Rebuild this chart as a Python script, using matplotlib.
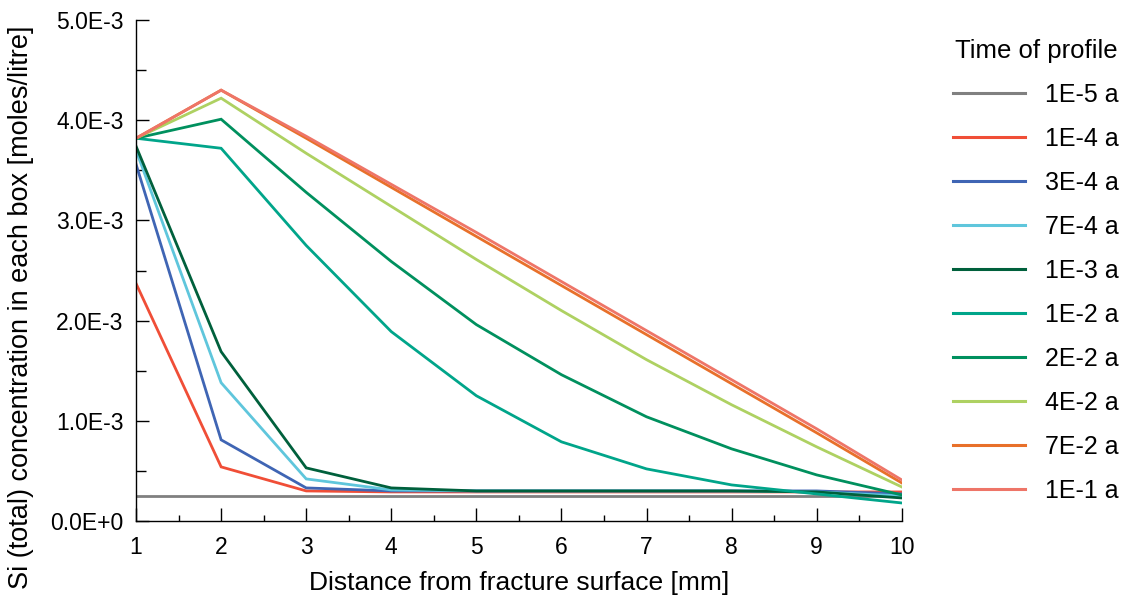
import matplotlib.pyplot as plt
from matplotlib.ticker import MultipleLocator, FuncFormatter

plt.rcParams['font.family'] = ['Liberation Sans', 'DejaVu Sans']

# distance of each box from the fracture surface (mm)
distance = [1, 2, 3, 4, 5, 6, 7, 8, 9, 10]

times = ['1E-5 a', '1E-4 a', '3E-4 a', '7E-4 a', '1E-3 a',
         '1E-2 a', '2E-2 a', '4E-2 a', '7E-2 a', '1E-1 a']

colors = ['#808080', '#f04e37', '#3f65b4', '#5fc6dc', '#00603c',
          '#00a58a', '#00905e', '#aed162', '#e8702a', '#ee7568']

# Si (total) concentration, in units of 1E-3 moles/litre
si_1e5 = [0.245, 0.245, 0.245, 0.245, 0.245, 0.245, 0.245, 0.245, 0.245, 0.245]
si_1e4 = [2.37, 0.54, 0.30, 0.29, 0.29, 0.29, 0.29, 0.29, 0.29, 0.29]
si_3e4 = [3.56, 0.81, 0.33, 0.30, 0.30, 0.30, 0.30, 0.30, 0.30, 0.27]
si_7e4 = [3.70, 1.38, 0.42, 0.31, 0.30, 0.30, 0.30, 0.30, 0.29, 0.25]
si_1e3 = [3.74, 1.69, 0.53, 0.33, 0.30, 0.30, 0.30, 0.30, 0.29, 0.23]
si_1e2 = [3.82, 3.72, 2.75, 1.89, 1.25, 0.79, 0.52, 0.36, 0.27, 0.18]
si_2e2 = [3.82, 4.01, 3.28, 2.59, 1.96, 1.46, 1.04, 0.72, 0.46, 0.26]
si_4e2 = [3.82, 4.22, 3.67, 3.14, 2.61, 2.10, 1.61, 1.16, 0.74, 0.34]
si_7e2 = [3.82, 4.30, 3.82, 3.33, 2.84, 2.35, 1.86, 1.37, 0.88, 0.38]
si_1e1 = [3.82, 4.30, 3.84, 3.36, 2.88, 2.39, 1.90, 1.41, 0.92, 0.41]

profiles = [si_1e5, si_1e4, si_3e4, si_7e4, si_1e3,
            si_1e2, si_2e2, si_4e2, si_7e2, si_1e1]

fig = plt.figure(figsize=(11.3, 6.03), dpi=100)
ax = fig.add_axes([0.1204, 0.136, 0.6776, 0.8308])

for vals, col, lab in zip(profiles, colors, times):
    ax.plot(distance, [v * 1e-3 for v in vals], color=col, lw=2.0, label=lab,
            solid_joinstyle='miter')

ax.set_xlim(1, 10)
ax.set_ylim(0, 5e-3)
ax.xaxis.set_major_locator(MultipleLocator(1))
ax.xaxis.set_minor_locator(MultipleLocator(0.5))
ax.yaxis.set_major_locator(MultipleLocator(1e-3))
ax.yaxis.set_minor_locator(MultipleLocator(0.5e-3))


def sci_fmt(v, pos):
    if abs(v) < 1e-12:
        return '0.0E+0'
    return '{:.1f}E-3'.format(v * 1e3)


ax.yaxis.set_major_formatter(FuncFormatter(sci_fmt))

for side in ('top', 'right'):
    ax.spines[side].set_visible(False)
for side in ('left', 'bottom'):
    ax.spines[side].set_linewidth(1.0)

ax.tick_params(which='major', direction='in', length=9.5, width=1.0,
               labelsize=16.5)
ax.tick_params(axis='y', which='major', pad=9)
ax.tick_params(axis='x', which='major', pad=10.5)
ax.tick_params(axis='y', which='minor', direction='in', length=7, width=1.0)
ax.tick_params(axis='x', which='minor', direction='in', length=4, width=1.0)

ax.set_xlabel('Distance from fracture surface [mm]', fontsize=19, labelpad=9)
ax.set_ylabel('Si (total) concentration in each box [moles/litre]',
              fontsize=19.5)
ax.yaxis.set_label_coords(-0.133, 0.427)

leg = ax.legend(loc='upper left', bbox_to_anchor=(1.0666, 0.962), frameon=False,
                title='Time of profile', fontsize=18, title_fontsize=18.5,
                handlelength=2.9, handletextpad=0.8, labelspacing=0.8,
                borderpad=0, borderaxespad=0)
for line in leg.get_lines():
    line.set_linewidth(2.2)

fig.savefig('out.png', dpi=100)
